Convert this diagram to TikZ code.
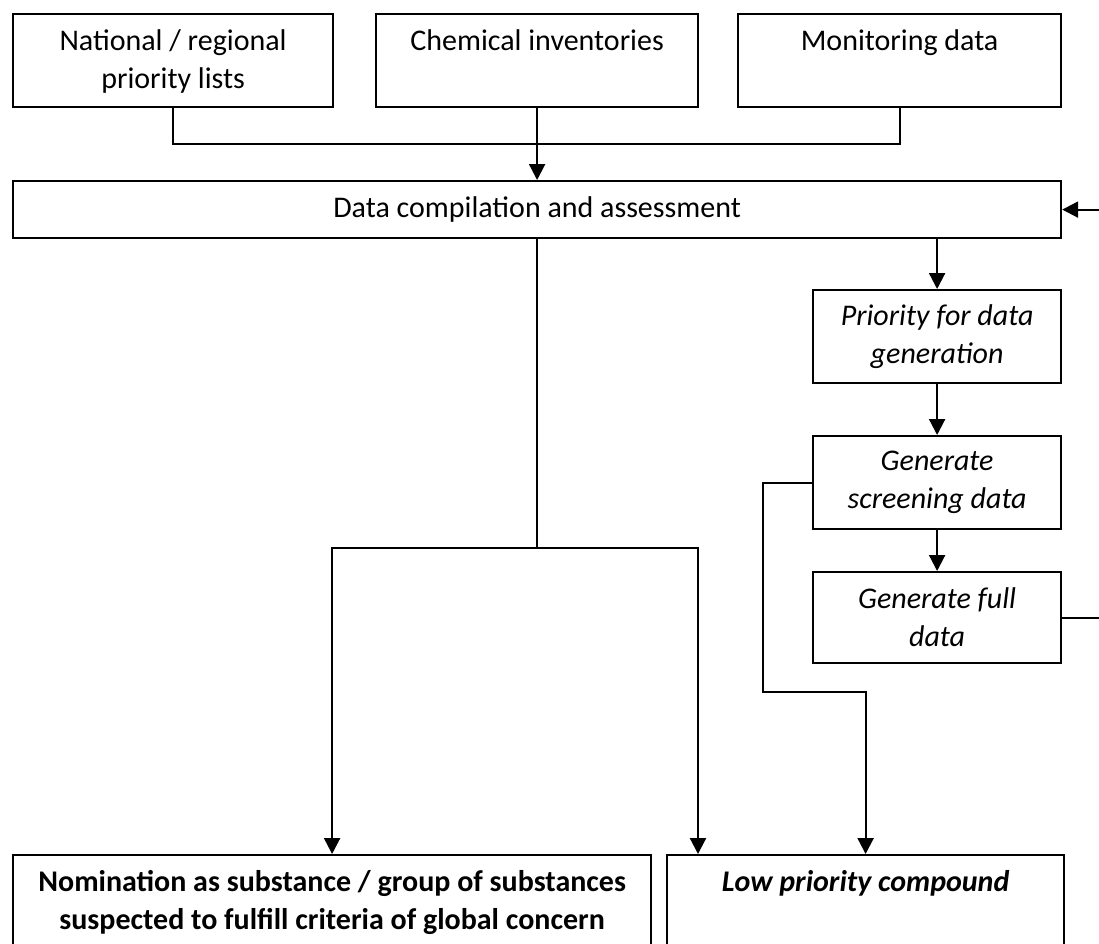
\documentclass[tikz,border=0pt]{standalone}
\usepackage{fontspec}
\setmainfont{Carlito}
\usetikzlibrary{arrows.meta}

\newcommand{\flowsize}{\fontsize{30pt}{38pt}\selectfont}

\tikzset{
	box/.style={draw, line width=2.2pt, align=flush center, inner sep=0pt, font=\flowsize},
	srcbox/.style={box, anchor=north west, text height=36pt, text depth=57pt},
	stepbox/.style={box, anchor=north west, minimum width=248pt, font=\flowsize\itshape},
	outbox/.style={box, anchor=north west, text height=36pt, text depth=150pt, font=\flowsize\bfseries},
	line/.style={line width=2.2pt},
	arr/.style={-{Triangle[length=16pt,width=16pt]}}
}

\begin{document}
\begin{tikzpicture}[x=1pt,y=-1pt]
	\useasboundingbox (0,0) rectangle (1099,943);

	% sources
	\node[srcbox, text width=320pt] (nat) at (12,13) {National / regional\\priority lists};
	\node[srcbox, text width=322pt] (chem) at (375,13) {Chemical inventories};
	\node[srcbox, text width=323pt] (mon) at (737,13) {Monitoring data};

	\node[box, anchor=north west, minimum width=1048pt, minimum height=57pt] (data) at (12,180) {Data compilation and assessment};

	% data generation
	\node[stepbox, minimum height=93pt] (prio) at (812,289) {Priority for data\\generation};
	\node[stepbox, minimum height=93pt] (screen) at (812,435) {Generate\\screening data};
	\node[stepbox, minimum height=91pt] (full) at (812,571) {Generate full\\data};

	% outcomes
	\node[outbox, text width=638pt] (nom) at (12,854) {Nomination as substance / group of substances\\suspected to fulfill criteria of global concern};
	\node[outbox, text width=397pt, font=\flowsize\bfseries\itshape] (low) at (666,854) {Low priority compound};

	\path (data.south) ++(0,309) coordinate (split);
	\coordinate (lowin) at (698,854);
	\coordinate (turn) at (763,692);

	\draw[line] (nat.south) -- ++(0,36) -| (mon.south);
	\draw[line,arr] (chem.south) -- (data.north);
	\draw[line,arr] (data.south -| prio.north) -- (prio.north);
	\draw[line,arr] (prio) -- (screen);
	\draw[line,arr] (screen) -- (full);
	\draw[line,arr] (full.east) -- ++(50,0) |- (data.east);

	\draw[line] (data.south) -- (split);
	\draw[line,arr] (split) -| (nom.north);
	\draw[line,arr] (split) -| (lowin);
	\draw[line,arr] (screen.west) -| (turn) -| (low.north);
\end{tikzpicture}
\end{document}
